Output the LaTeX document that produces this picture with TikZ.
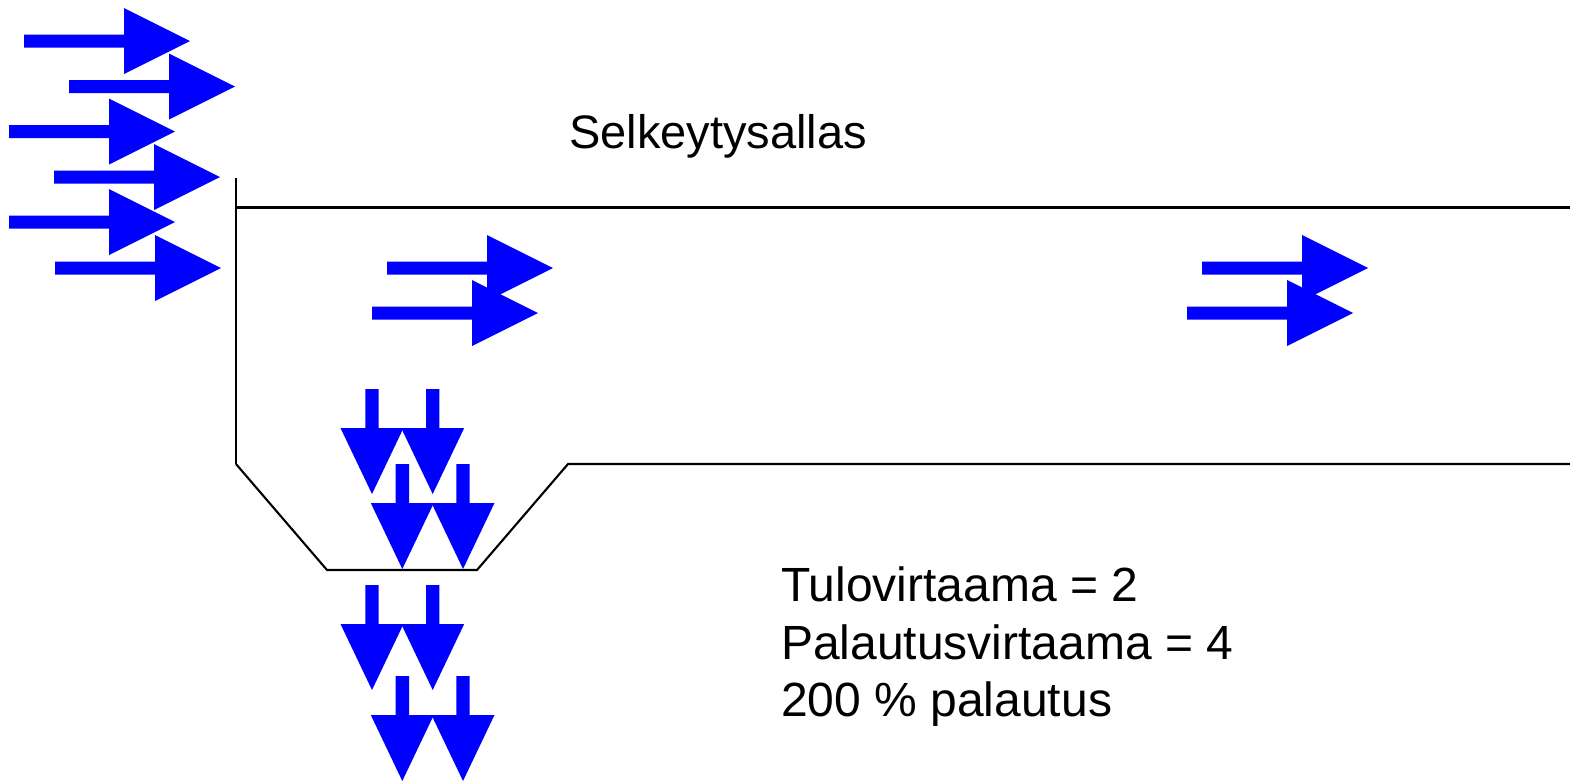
\documentclass[tikz,border=0pt]{standalone}
\usepackage{fontspec}
\setmainfont{Liberation Sans}
\definecolor{flowblue}{RGB}{0,0,255}
\tikzset{
  flow/.style={fill=flowblue, draw=none},
  wall/.style={draw=black, line width=2.1pt, line join=miter},
  label/.style={inner sep=0pt, anchor=base west, text=black},
  rarrow/.pic={\fill[flow] (0,-6.5) -- (100,-6.5) -- (100,-33) -- (166,0) -- (100,33) -- (100,6.5) -- (0,6.5) -- cycle;},
  darrow/.pic={\fill[flow] (-6.7,0) -- (-6.7,39) -- (-31.5,39) -- (0,105) -- (31.5,39) -- (6.7,39) -- (6.7,0) -- cycle;}
}
\begin{document}
\begin{tikzpicture}[x=1pt,y=-1pt]
\useasboundingbox (0,0) rectangle (1570,780);
% basin outline
\coordinate (wtop) at (236,178);
\coordinate (wbot) at (236,464);
\coordinate (surfL) at (236,207.5);
\coordinate (surfR) at (1570,207.5);
\coordinate (hopL) at (327,570);
\coordinate (hopR) at (477,570);
\coordinate (floorL) at (568,464);
\coordinate (floorR) at (1570,464);
\draw[wall] (wtop) -- (wbot);
\draw[wall] (surfL) -- (surfR);
\draw[wall] (wbot) -- (hopL) -- (hopR) -- (floorL) -- (floorR);
% inflow arrows
\pic at (24,41) {rarrow};
\pic at (69,86.5) {rarrow};
\pic at (9,131.5) {rarrow};
\pic at (54,177) {rarrow};
\pic at (9,222) {rarrow};
\pic at (55,268) {rarrow};
% flow through basin
\pic at (387,268) {rarrow};
\pic at (372,313) {rarrow};
\pic at (1202,268) {rarrow};
\pic at (1187,313) {rarrow};
% return flow down
\pic at (372,389) {darrow};
\pic at (432.7,389) {darrow};
\pic at (402.3,464) {darrow};
\pic at (463,464) {darrow};
\pic at (372,585) {darrow};
\pic at (432.7,585) {darrow};
\pic at (402.3,676) {darrow};
\pic at (463,676) {darrow};
% texts
\node[label, font=\fontsize{47}{56}\selectfont] (title) at (569,148.3) {Selkeytysallas};
\node[label, font=\fontsize{48}{57.6}\selectfont] (l1) at (781,601.7) {Tulovirtaama = 2};
\node[label, font=\fontsize{48}{57.6}\selectfont] (l2) at (781,659.3) {Palautusvirtaama = 4};
\node[label, font=\fontsize{48}{57.6}\selectfont] (l3) at (781,716.7) {200 \% palautus};
\end{tikzpicture}
\end{document}
